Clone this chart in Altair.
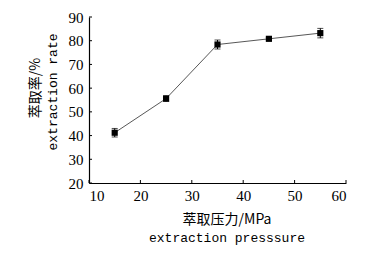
import altair as alt
import pandas as pd

pressure = [15, 25, 35, 45, 55]
rate = [41.2, 55.6, 78.4, 80.8, 83.2]
err = [1.8, 1.2, 1.9, 0.5, 2.0]
x_ticks = [10, 20, 30, 40, 50, 60]
y_ticks = [20, 30, 40, 50, 60, 70, 80, 90]

df = pd.DataFrame({"p": pressure, "r": rate, "e": err})
df["lo"] = df["r"] - df["e"]
df["hi"] = df["r"] + df["e"]

W, H = 257, 166
xs = alt.Scale(domain=[10, 60], nice=False)
ys = alt.Scale(domain=[20, 90], nice=False)

LF = "Liberation Serif"
xaxis = alt.Axis(values=x_ticks, tickSize=0, labelFont=LF, labelFontSize=15,
                 labelColor="black", labelPadding=5, domainColor="black",
                 domainWidth=1.2, grid=False, title=None, labelOverlap=False)
yaxis = alt.Axis(values=y_ticks, tickSize=0, labelFont=LF, labelFontSize=15,
                 labelColor="black", labelPadding=6, domainColor="black",
                 domainWidth=1.2, grid=False, title=None, labelOverlap=False)

X = lambda f: alt.X(f, scale=xs, axis=xaxis)
Y = lambda f: alt.Y(f, scale=ys, axis=yaxis)

base = alt.Chart(df)
line = base.mark_line(color="#444", strokeWidth=0.9).encode(x=X("p:Q"), y=Y("r:Q"))
rule = base.mark_rule(color="black", strokeWidth=1).encode(
    x=X("p:Q"), y=Y("lo:Q"), y2="hi:Q")
cap_lo = base.mark_tick(color="black", orient="horizontal", size=6, thickness=1).encode(
    x=X("p:Q"), y=Y("lo:Q"))
cap_hi = base.mark_tick(color="black", orient="horizontal", size=6, thickness=1).encode(
    x=X("p:Q"), y=Y("hi:Q"))
pts = base.mark_square(color="black", size=38, opacity=1).encode(x=X("p:Q"), y=Y("r:Q"))

xt = alt.Chart(pd.DataFrame({"t": x_ticks})).mark_rule(color="black", strokeWidth=1).encode(
    x=X("t:Q"), y=alt.value(H), y2=alt.value(H - 3))
yt = alt.Chart(pd.DataFrame({"t": y_ticks})).mark_rule(color="black", strokeWidth=1).encode(
    y=Y("t:Q"), x=alt.value(0), x2=alt.value(3))

CJK = "Noto Sans CJK SC"
MONO = "Liberation Mono"
def label(txt, x, y, font, size, angle=0):
    return alt.Chart(pd.DataFrame({"s": [txt]})).mark_text(
        font=font, fontSize=size, color="black", align="center",
        baseline="middle", angle=angle).encode(
        text="s:N", x=alt.value(x), y=alt.value(y))

titles = [
    label("萃取压力/MPa", 138, 203, CJK, 14),
    label("extraction presssure", 138, 221, MONO, 13),
    label("萃取率/%", -53, 71, CJK, 14, 270),
    label("extraction rate", -36, 75, MONO, 13, 270),
]

chart = alt.layer(line, rule, cap_lo, cap_hi, pts, xt, yt, *titles).properties(
    width=W, height=H,
    autosize=alt.AutoSizeParams(type="none"),
    padding={"left": 81, "top": 9, "right": 20, "bottom": 70},
).configure(background="white", view=alt.ViewConfig(stroke=None)
).configure_axis(labelOverlap=False)

chart.save("out.html", embed_options={"renderer": "svg", "actions": False})
